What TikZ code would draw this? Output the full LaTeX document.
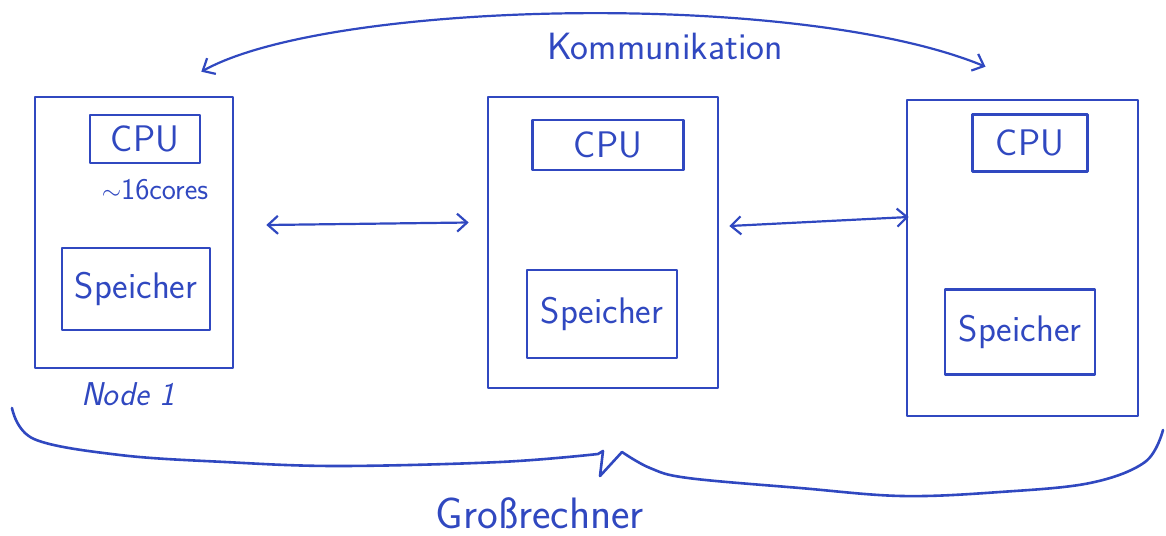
\documentclass[tikz,border=0pt]{standalone}
\usepackage{fontspec}
\usetikzlibrary{arrows.meta}
\definecolor{pen}{RGB}{48,72,192}

\begin{document}
\begin{tikzpicture}[x=1pt, y=-1pt, line join=round, line cap=round,
    pen/.style={draw=pen, line width=2.6pt},
    nodebox/.style={pen, inner sep=0pt},
    partbox/.style={pen, inner sep=0pt, text=pen, font=\sffamily\fontsize{37}{40}\selectfont},
    link/.style={pen, line width=2.2pt, {Straight Barb[length=10pt,width=18pt]}-{Straight Barb[length=10pt,width=18pt]}},
    handtext/.style={text=pen, font=\sffamily\fontsize{#1}{#1}\selectfont},
    handtext/.default=34]
  \useasboundingbox (0,0) rectangle (1166,535);

  % the three nodes
  \node[nodebox, minimum width=198pt, minimum height=271pt] (n1) at (134,232.5) {};
  \node[nodebox, minimum width=230pt, minimum height=291pt] (n2) at (603,242.5) {};
  \node[nodebox, minimum width=231pt, minimum height=316pt] (n3) at (1022.5,258) {};

  \node[partbox, minimum width=110pt, minimum height=48pt] (cpu1) at (145,139) {CPU};
  \node[partbox, minimum width=151pt, minimum height=50pt] (cpu2) at (608,145) {CPU};
  \node[partbox, minimum width=115pt, minimum height=57pt] (cpu3) at (1030,143) {CPU};

  \node[partbox, minimum width=148pt, minimum height=82pt] (mem1) at (136,289) {Speicher};
  \node[partbox, minimum width=150pt, minimum height=88pt] (mem2) at (602,314) {Speicher};
  \node[partbox, minimum width=150pt, minimum height=85pt] (mem3) at (1020,332) {Speicher};

  \node[handtext=30] (cores) at (155,190) {$\sim$16cores};
  \node[handtext=32, font=\sffamily\itshape\fontsize{33}{33}\selectfont] (name1) at (128,394) {Node 1};

  % links between the nodes
  \draw[link] ([xshift=32pt,yshift=7.5pt]n1.east) -- ([xshift=-18pt,yshift=20pt]n2.west);
  \draw[link] ([xshift=10pt,yshift=16.5pt]n2.east) -- ([xshift=3pt,yshift=41pt]n3.west);

  % communication arc
  \coordinate (kl) at ([xshift=-33pt,yshift=24pt]n1.north east);
  \coordinate (kr) at ([xshift=-37pt,yshift=32pt]n3.north);
  \draw[link] (kl) .. controls (330,0) and (800,-10) .. (kr);
  \node[handtext=38] (komm) at (665,46) {Kommunikation};

  % brace under everything
  \draw[pen] plot[smooth, tension=0.6] coordinates {(12,408) (34,439) (120,455) (225,462) (338,466) (500,462) (598,454)}
    -- (603,451) -- (600,476) -- (622,452);
  \draw[pen] plot[smooth, tension=0.6] coordinates {(622,452) (650,468) (688,478) (800,488) (902,496) (1000,492) (1090,483) (1145,462) (1163,430)};
  \node[handtext=44] (gross) at (540,513) {Großrechner};
\end{tikzpicture}
\end{document}
